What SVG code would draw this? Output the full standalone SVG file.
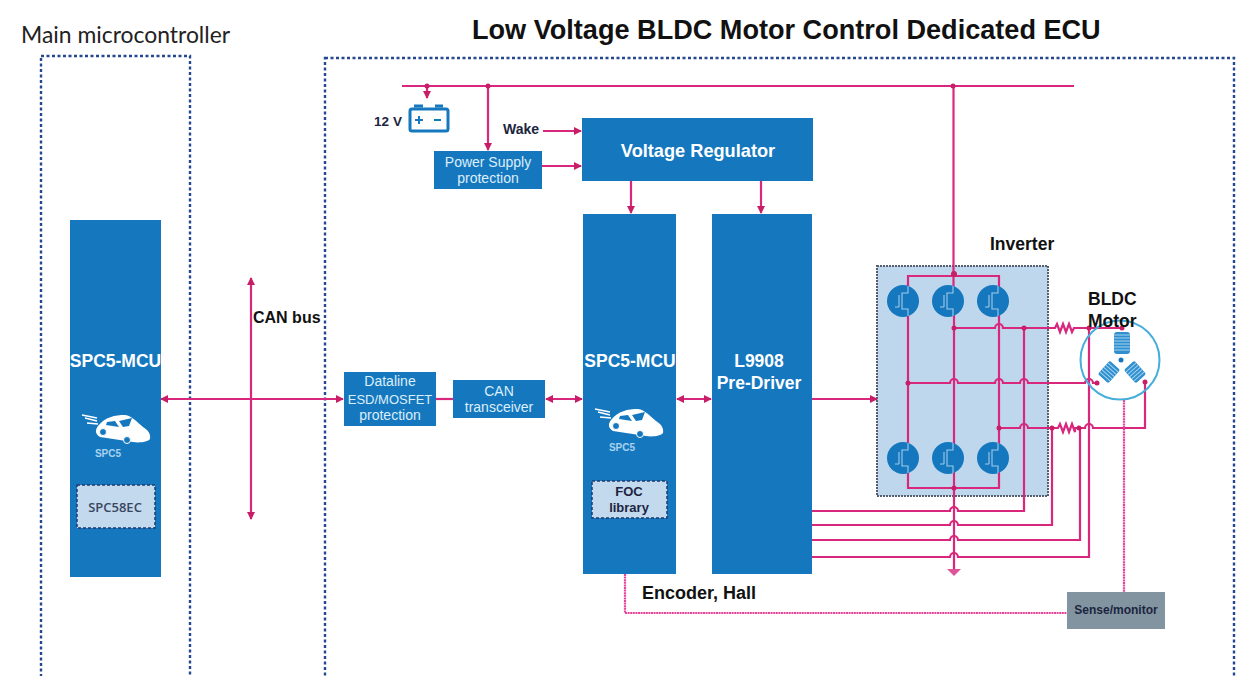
<svg xmlns="http://www.w3.org/2000/svg" xmlns:xlink="http://www.w3.org/1999/xlink" width="1238" height="676" viewBox="0 0 1238 676">
<style>
.box{fill:#1578bf}
.w{fill:#fff;font-family:"Liberation Sans",Arial,sans-serif;font-weight:700;text-anchor:middle}
.k{fill:#111;font-family:"Liberation Sans",Arial,sans-serif;font-weight:700}
.sm{fill:#dceefa;font-family:"Liberation Sans",Arial,sans-serif;font-size:14px;text-anchor:middle}
.d{fill:#1c2540;font-family:"Liberation Sans",Arial,sans-serif;font-weight:700;text-anchor:middle}
.frame{fill:none;stroke:#24478f;stroke-width:2.4;stroke-dasharray:3 2.5}
.c{fill:none;stroke:#d8277c;stroke-width:2.2}
.dash{fill:none;stroke:#e8439a;stroke-width:2.2;stroke-dasharray:2 .6}
.dot{fill:#c81e68}
.lib{fill:#c3d9ee;stroke:#1f3a70;stroke-width:1.5;stroke-dasharray:3 2}
</style>
<defs>
<marker id="a" markerWidth="8" markerHeight="8" refX="7" refY="4" orient="auto-start-reverse" markerUnits="userSpaceOnUse"><path d="M0 0L8 4L0 8Z" fill="#c81e68"/></marker>
<g id="car"><path d="M611 420C618 411 628 409 638 409C645 410 650 416 656 421C661 424 664 428 663 433C661 436 652 437 646 436L613 431C608 428 608 424 611 420Z" fill="#fff"/><path d="M595 409L610 412M598 412L610 415M600 417L611 418" stroke="#fff" stroke-width="1.3" fill="none"/><path d="M620 416L628 415L632 421L619 419ZM632 415L645 412L642 420L636 421Z" fill="#1578bf"/><circle cx="616" cy="426" r="3.5" fill="#1578bf" stroke="#fff"/><circle cx="640" cy="434" r="3.5" fill="#1578bf" stroke="#fff"/></g>
<g id="fet"><circle r="16" fill="#1578bf"/><path d="M5 -15V-8H-1V8H5V15M-4 -6V6M-8 6H-4" fill="none" stroke="#9fcbea" stroke-width="1.1"/></g>
<g id="coil"><rect x="-8" y="-11" width="16" height="22" rx="3" fill="#2f8fcf"/><path d="M-8 -8H8M-8 -5H8M-8 -2H8M-8 1H8M-8 4H8M-8 7H8" stroke="#a5d4f0" stroke-width="1"/></g>
<g id="coil2"><rect x="-9" y="-7" width="18" height="14" rx="2" fill="#2f8fcf"/><path d="M-6 -7V7M-3 -7V7M0 -7V7M3 -7V7M6 -7V7" stroke="#a5d4f0" stroke-width="1"/></g>
</defs>
<rect width="1238" height="676" fill="#fff"/>
<text class="k" x="472" y="39" font-size="27.1" id="title">Low Voltage BLDC Motor Control Dedicated ECU</text>
<text x="21" y="43" font-size="22.9" fill="#222" font-family="Lato,'Open Sans',sans-serif">Main microcontroller</text>
<rect class="frame" x="41" y="56" width="149" height="640"/>
<rect class="frame" x="325" y="58" width="909" height="640"/>

<g id="inverter"><rect x="877" y="266" width="171" height="230" fill="#bfd7ec" stroke="#555f70" stroke-width="2" stroke-dasharray="2 1"/><text class="k" x="990" y="250" font-size="17.500">Inverter</text></g>

<g id="connectors">
<path class="c" d="M402 86H1074"/>
<path class="c" marker-end="url(#a)" d="M427 86V98"/>
<path class="c" marker-end="url(#a)" d="M488 86V150"/>
<path class="c" marker-end="url(#a)" d="M543 131H581"/>
<path class="c" marker-end="url(#a)" d="M542 166H581"/>
<path class="c" marker-end="url(#a)" d="M631 181V213"/>
<path class="c" marker-end="url(#a)" d="M761 181V213"/>
<path class="c" marker-start="url(#a)" marker-end="url(#a)" d="M161 399H343"/>
<path class="c" marker-start="url(#a)" marker-end="url(#a)" d="M251 278V519"/>
<path class="c" d="M436 399H453"/>
<path class="c" marker-start="url(#a)" marker-end="url(#a)" d="M546 399H582"/>
<path class="c" marker-start="url(#a)" marker-end="url(#a)" d="M677 399H711"/>
<path class="c" marker-end="url(#a)" d="M812 399H877"/>
<path class="c" d="M953.500 86V288"/>
<path class="c" d="M908 288V276H999V288M908 314V445M954 314V445M999 314V445M908 471V488H999V471M954 471V570"/>
<path class="c" d="M954 328H995a4 4 0 0 1 8 0H1055l2 -4 3 8 3 -8 3 8 3 -8 3 8 2 -4H1122"/>
<path class="c" d="M908 383H950a4 4 0 0 1 8 0H995a4 4 0 0 1 8 0H1020a4 4 0 0 1 8 0H1085a4 4 0 0 1 8 0H1097"/>
<path class="c" d="M999 428H1020a4 4 0 0 1 8 0H1058l2 -4 3 8 3 -8 3 8 3 -8 3 8 0 -4H1085a4 4 0 0 1 8 0H1145V382"/>
<path class="c" d="M812 511H950a4 4 0 0 1 8 0H1024V328"/>
<path class="c" d="M812 525H950a4 4 0 0 1 8 0H1052V428"/>
<path class="c" d="M812 540H950a4 4 0 0 1 8 0H1080V428"/>
<path class="c" d="M812 557H950a4 4 0 0 1 8 0H1089V328"/>
<path d="M947 569H961L954 576Z" fill="#e0559a"/>
<path class="dash" d="M1124 400V592M625 574V613H1067"/>
<g class="dot"><circle cx="427" cy="86" r="2.5"/><circle cx="488" cy="86" r="2.5"/><circle cx="953" cy="86" r="2.5"/><circle cx="954" cy="274" r="3"/><circle cx="954" cy="328" r="2.5"/><circle cx="1024" cy="328" r="2.5"/><circle cx="1089" cy="328" r="2.5"/><circle cx="1122" cy="328" r="2.5"/><circle cx="908" cy="383" r="2.5"/><circle cx="1097" cy="383" r="2.5"/><circle cx="999" cy="428" r="2.5"/><circle cx="1052" cy="428" r="2.5"/><circle cx="1079" cy="428" r="2.5"/><circle cx="1145" cy="382" r="2.5"/><circle cx="954" cy="488" r="2.5"/></g>
</g>

<g id="mosfets">
<use xlink:href="#fet" href="#fet" x="903" y="301"/><use xlink:href="#fet" href="#fet" x="948" y="301"/><use xlink:href="#fet" href="#fet" x="993" y="301"/>
<use xlink:href="#fet" href="#fet" x="903" y="458"/><use xlink:href="#fet" href="#fet" x="948" y="458"/><use xlink:href="#fet" href="#fet" x="993" y="458"/>
</g>

<g id="motor">
<circle cx="1120" cy="360" r="39.500" fill="none" stroke="#45aedb" stroke-width="2"/>
<use xlink:href="#coil" href="#coil" transform="translate(1122 343)"/>
<use xlink:href="#coil2" href="#coil2" transform="translate(1109 372) rotate(-48)"/>
<use xlink:href="#coil2" href="#coil2" transform="translate(1135 372) rotate(48)"/>
<circle cx="1121" cy="360" r="2.500" fill="#1578bf"/>
<text class="k" font-size="17.500"><tspan x="1088" y="305">BLDC</tspan><tspan x="1088" y="327">Motor</tspan></text>
</g>

<g id="mcu-left"><rect class="box" x="70" y="220" width="91" height="357"/>
<text class="w" x="115.500" y="367" font-size="17.500">SPC5-MCU</text>
<use xlink:href="#car" href="#car" x="-513" y="6"/>
<text class="sm" x="108" y="457" style="font-size:10px;font-weight:700;fill:#a9d2ee">SPC5</text>
<rect class="lib" x="77" y="485" width="78" height="43"/>
<text class="d" x="115" y="512" font-size="13" style="font-family:'Open Sans',sans-serif;font-weight:600;fill:#3a4660">SPC58EC</text></g>

<text class="k" x="253" y="323" font-size="16" id="canbus">CAN bus</text>

<g id="dataline"><rect class="box" x="344" y="372" width="92" height="54"/><text class="sm"><tspan x="390" y="386">Dataline</tspan><tspan x="390" y="404" style="font-size:13px">ESD/MOSFET</tspan><tspan x="390" y="420">protection</tspan></text></g>
<g id="can"><rect class="box" x="453" y="380" width="92" height="38"/><text class="sm"><tspan x="499" y="396">CAN</tspan><tspan x="499" y="412">transceiver</tspan></text></g>

<g id="battery"><text class="d" x="388" y="126" font-size="13.500">12 V</text><rect x="410" y="109" width="38" height="22" rx="2" fill="#fff" stroke="#1578bf" stroke-width="3"/><path d="M414 106H423M435 106H443" stroke="#1578bf" stroke-width="3"/><path d="M415 120H423M419 116V124M434 120H441" stroke="#1578bf" stroke-width="2"/></g>
<text class="d" x="521" y="134" font-size="14">Wake</text>
<g id="psu"><rect class="box" x="434" y="151" width="108" height="38"/><text class="sm"><tspan x="488" y="167">Power Supply</tspan><tspan x="488" y="183">protection</tspan></text></g>
<g id="vreg"><rect class="box" x="582" y="118" width="231" height="63"/><text class="w" x="698" y="157" font-size="18.200">Voltage Regulator</text></g>

<g id="mcu"><rect class="box" x="583" y="214" width="93" height="360"/>
<text class="w" x="630" y="367" font-size="17.500">SPC5-MCU</text>
<use xlink:href="#car" href="#car"/>
<text class="sm" x="622" y="451" style="font-size:10px;font-weight:700;fill:#a9d2ee">SPC5</text>
<rect class="lib" x="592" y="481" width="75" height="37"/>
<text class="d" font-size="13"><tspan x="629" y="496">FOC</tspan><tspan x="629" y="512">library</tspan></text></g>

<g id="driver"><rect class="box" x="712" y="214" width="100" height="360"/><text class="w" font-size="17.500"><tspan x="759" y="367">L9908</tspan><tspan x="759" y="389">Pre-Driver</tspan></text></g>

<text class="k" x="642" y="599" font-size="18" id="encoder">Encoder, Hall</text>
<g id="sense"><rect x="1067" y="592" width="98" height="37" fill="#82949f"/><text class="d" x="1116" y="614" font-size="12">Sense/monitor</text></g>
</svg>
